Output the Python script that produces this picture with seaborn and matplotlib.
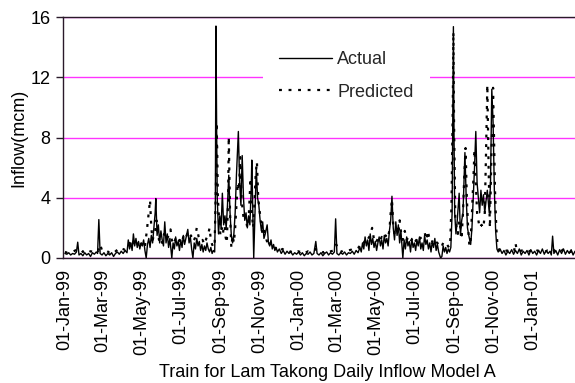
import matplotlib
matplotlib.use("Agg")
import matplotlib.pyplot as plt
import matplotlib.dates as mdates
import numpy as np
import pandas as pd
import seaborn as sns

# Day offsets from 01-Jan-1999 and observed daily inflow (million m3)
actual_day = [
    0, 3, 6, 9, 12, 15, 18, 20, 22, 25, 28, 31, 34, 37, 40, 43, 46, 49, 51, 53, 55, 58,
    61, 64, 67, 70, 73, 76, 79, 82, 85, 88, 91, 94, 97, 99, 101, 103, 105, 107, 109, 111,
    113, 115, 117, 119, 121, 123, 125, 127, 129, 131, 133, 135, 137, 139, 141, 142, 144,
    146, 148, 150, 152, 154, 156, 158, 160, 162, 164, 167, 169, 171, 173, 175, 177, 179,
    181, 183, 185, 187, 189, 192, 194, 196, 198, 200, 202, 204, 206, 208, 210, 212, 214,
    216, 218, 220, 222, 224, 226, 228, 230, 232, 234,
    235, 236, 237, 238, 240, 242, 244, 246, 248, 250, 252, 254, 256, 258, 260, 262, 264,
    266, 268, 271, 273, 275, 277, 279, 281, 283, 285, 287, 289, 291, 292, 294, 295, 297,
    299, 301, 303, 305, 307, 309, 311, 313, 316, 318, 320, 322, 324, 326, 328, 330, 332,
    335, 338, 341, 344, 347, 350, 353, 356, 359, 362,
    365, 368, 371, 374, 377, 380, 383, 386, 389, 392, 394, 397, 400, 403, 406, 409, 412,
    415, 418, 421, 423, 425, 428, 431, 434, 437, 440, 443, 446, 449, 452, 455, 458, 461,
    463, 465, 467, 469, 471, 473, 475, 477, 479, 481, 483, 485, 487, 489, 491, 493, 495,
    497, 499, 501, 503, 505, 507, 509, 511, 513, 515, 517, 519, 521, 523, 525, 528, 530,
    532, 534, 536, 538, 540, 542, 544, 546, 548, 550, 552, 554, 556, 558, 560, 562, 564,
    566, 568, 570, 572, 574, 576, 578, 580, 582, 584, 587, 589, 591, 593, 595, 597, 599,
    601, 603, 605, 607, 608, 609, 611, 613, 616, 618, 620, 622, 625, 627, 629, 631, 634,
    636, 638, 640, 642, 644, 646, 648, 650, 652, 654, 656, 658, 660, 663, 665, 667, 669,
    671, 673, 675,
    677, 680, 683, 686, 689, 692, 695, 698, 701, 704, 707, 710, 713, 716, 719, 722, 725,
    728, 731, 734, 737, 740, 743, 746, 749, 752, 755, 758, 760, 762, 764, 767, 770, 773,
    776, 779, 782, 785, 788, 791, 794, 797, 800, 803, 806, 809, 812, 815, 818, 821,
]
actual = [
    0.3, 0.25, 0.35, 0.2, 0.3, 0.25, 0.4, 1.05, 0.2, 0.3, 0.15, 0.35, 0.2, 0.3, 0.1, 0.35, 0.25, 0.4, 0.3, 2.55, 0.3, 0.2,
    0.35, 0.15, 0.3, 0.2, 0.35, 0.1, 0.3, 0.4, 0.25, 0.45, 0.3, 0.5, 0.35, 1.2, 0.6, 1.0, 0.5, 1.6, 0.8, 1.3,
    0.7, 1.1, 0.6, 1.0, 0.8, 1.2, 0.5, 0.0, 0.9, 1.3, 0.7, 1.5, 1.0, 2.0, 3.0, 3.95, 1.5,
    2.2, 1.0, 1.8, 1.2, 0.8, 2.4, 1.0, 1.6, 0.7, 1.3, 0.0, 1.0, 0.6, 1.4, 0.8, 1.1, 0.5,
    1.2, 0.7, 1.5, 0.9, 1.3, 1.9, 1.0, 1.4, 0.6, 0.0, 1.0, 0.6, 1.3, 0.8, 1.1, 0.5, 0.9,
    0.4, 0.8, 0.5, 1.0, 0.6, 0.4, 0.7, 0.3, 0.5, 0.4,
    3.0, 15.4, 9.0, 4.0, 1.6, 2.8, 2.0, 4.3, 2.2, 2.8, 2.0, 3.5, 5.5, 3.0, 1.5, 1.0, 1.6,
    3.0, 5.5, 8.4, 5.0, 3.5, 6.8, 4.0, 2.5, 3.0, 2.0, 2.8, 2.2, 4.5, 6.5, 2.0, 0.0, 3.0,
    6.0, 4.0, 3.5, 2.5, 1.8, 2.4, 1.3, 1.6, 2.2, 1.0, 0.8, 1.2, 0.6, 0.9, 0.5, 0.7, 0.4,
    0.6, 0.3, 0.5, 0.25, 0.45, 0.3, 0.4, 0.2, 0.35, 0.25,
    0.4, 0.2, 0.35, 0.15, 0.3, 0.25, 0.4, 0.2, 0.3, 1.1, 0.3, 0.2, 0.35, 0.15, 0.3, 0.4, 0.2,
    0.35, 0.25, 0.4, 2.6, 0.3, 0.2, 0.35, 0.25, 0.4, 0.2, 0.35, 0.3, 0.45, 0.25, 0.5, 0.35, 0.7,
    0.4, 1.0, 0.6, 1.4, 0.8, 1.2, 0.5, 1.6, 0.9, 1.3, 0.7, 1.1, 0.5, 1.0, 1.4, 0.8, 1.2,
    0.6, 1.5, 1.0, 1.3, 0.8, 1.8, 2.5, 4.1, 2.0, 1.2, 2.4, 1.5, 2.2, 1.0, 1.8, 0.0, 1.2,
    0.6, 1.4, 0.8, 1.1, 0.4, 1.3, 0.7, 1.0, 0.5, 1.2, 0.8, 1.4, 0.6, 1.0, 0.5, 1.5, 0.9,
    1.2, 0.6, 1.0, 0.4, 1.1, 0.7, 1.3, 0.5, 0.9, 0.4, 0.0, 0.1, 0.8, 0.4, 0.7, 0.3, 0.6,
    0.4, 0.7, 3.0, 15.36, 8.0, 3.0, 1.6, 2.5, 4.3, 1.5, 2.5, 3.0, 7.0, 4.0, 2.0, 1.5, 0.9,
    2.0, 4.0, 6.0, 8.4, 5.0, 4.0, 3.0, 4.5, 3.5, 4.2, 3.0, 3.8, 4.5, 3.0, 5.0, 11.2, 9.0,
    4.5, 1.8, 0.6,
    0.4, 0.6, 0.3, 0.5, 0.2, 0.45, 0.3, 0.55, 0.25, 0.5, 0.3, 0.6, 0.2, 0.45, 0.3, 0.5, 0.2,
    0.55, 0.3, 0.45, 0.2, 0.5, 0.3, 0.6, 0.25, 0.5, 0.3, 0.45, 0.2, 1.45, 0.3, 0.5, 0.2, 0.55,
    0.3, 0.6, 0.25, 0.5, 0.3, 0.55, 0.2, 0.45, 0.3, 0.5, 0.2, 0.45, 0.3, 0.5, 0.25, 0.4,
]

# Day offsets and Model A predictions
pred_day = [
    0, 4, 8, 12, 16, 20, 24, 28, 32, 36, 40, 44, 48, 52, 55, 58, 62, 66, 70, 74, 78, 82,
    86, 90, 94, 98, 101, 104, 107, 110, 113, 116, 119, 122, 125, 128, 131, 133, 135, 137,
    139, 141, 143, 145, 147, 149, 152, 155, 158, 161, 165, 167, 170, 173, 176, 179, 182,
    185, 188, 191, 194, 197, 200, 203, 206, 209, 212, 215, 218, 221, 224, 226, 228, 230,
    232, 234, 236, 237, 238, 239, 241, 243, 245, 247, 249, 251, 253, 255, 256, 258, 260,
    262, 264, 266, 268, 270, 272, 274, 276, 278, 280, 282, 285, 287, 290, 292, 294, 296,
    298, 300, 302, 304, 306, 309, 312, 315, 318, 321, 324, 327, 330, 333, 336, 340, 344,
    348, 352, 356, 360, 364, 368, 372, 376, 380, 384, 388, 392, 396, 400, 404, 408, 412,
    416, 420, 424, 427, 431, 435, 439, 443, 447, 451, 455, 459, 462, 465, 468, 471, 474,
    477, 480, 483, 486, 489, 492, 495, 498, 501, 504, 507, 509, 511, 513, 515, 518, 521,
    523, 526, 528, 531, 534, 537, 540, 543, 546, 549, 552, 555, 558, 562, 565, 567, 570,
    573, 576, 579, 582, 585, 588, 591, 594, 597, 600, 602, 604, 606, 607, 608, 610, 612,
    614, 616, 618, 620, 622, 624, 626, 628, 630, 632, 634, 636, 638, 640, 642, 644, 646,
    648, 651, 654, 656, 658, 660, 662, 664, 666, 668, 669, 671, 672, 674, 676, 679, 683,
    687, 691, 695, 699, 702, 704, 706, 710, 714, 718, 722, 726, 730, 734, 738, 742, 746,
    750, 754, 758, 762, 766, 770, 774, 778, 782, 786, 790, 794, 798, 802, 806, 810, 814,
    818, 822,
]
predicted = [
    0.4, 0.35, 0.45, 0.4, 0.5, 0.55, 0.6, 0.4, 0.5, 0.35, 0.45, 0.4, 0.5, 0.45, 0.9, 0.5, 0.4, 0.45, 0.35, 0.5, 0.4, 0.55,
    0.45, 0.6, 0.55, 0.8, 1.0, 0.7, 1.1, 1.0, 0.8, 1.2, 0.9, 1.1, 0.8, 1.8, 3.0, 3.85, 2.0, 1.2,
    1.5, 1.8, 2.5, 1.6, 1.2, 1.4, 1.0, 1.6, 1.2, 1.4, 1.9, 1.2, 0.9, 1.3, 1.0, 1.2, 1.0,
    1.4, 1.2, 1.6, 1.3, 1.5, 1.1, 1.3, 2.0, 1.4, 1.1, 1.2, 0.9, 1.3, 1.6, 2.0, 1.2, 0.9,
    0.7, 1.0, 5.0, 9.0, 7.0, 4.0, 2.5, 1.5, 2.0, 1.6, 2.5, 1.4, 1.0, 4.0, 8.05, 3.0, 0.7,
    1.5, 1.0, 2.0, 3.5, 5.0, 4.5, 6.7, 4.0, 3.0, 2.5, 2.8, 2.0, 2.5, 5.3, 3.0, 2.0, 3.5,
    5.5, 6.4, 4.0, 3.2, 2.5, 1.5, 1.8, 1.2, 0.8, 1.0, 0.7, 0.8, 0.6, 0.7, 0.5, 0.6, 0.45,
    0.5, 0.4, 0.5, 0.4, 0.45, 0.4, 0.5, 0.35, 0.45, 0.4, 0.5, 0.6, 0.4, 0.45, 0.35, 0.5, 0.4,
    0.45, 0.5, 0.9, 0.5, 0.4, 0.5, 0.45, 0.5, 0.55, 0.5, 0.6, 0.7, 0.9, 0.8, 1.1, 1.0, 1.3,
    1.5, 2.0, 1.2, 1.0, 1.3, 1.1, 1.4, 1.2, 1.5, 1.3, 1.8, 3.0, 3.9, 2.2, 1.6, 2.0, 1.6,
    2.5, 1.4, 1.2, 1.8, 1.2, 1.4, 1.1, 1.3, 1.0, 1.2, 1.0, 1.3, 1.4, 1.7, 1.2, 1.8, 1.2,
    1.0, 1.3, 1.1, 1.0, 0.8, 0.7, 1.0, 0.8, 0.9, 0.7, 1.0, 3.5, 10.0, 15.0, 9.0, 2.5, 2.0,
    1.6, 2.5, 2.0, 1.5, 3.0, 5.5, 7.3, 4.0, 2.0, 0.8, 1.2, 3.0, 5.0, 7.2, 5.0, 3.0, 2.5,
    2.0, 2.2, 2.0, 3.0, 7.0, 11.5, 6.0, 2.0, 6.0, 9.5, 11.3, 7.0, 4.5, 2.0, 0.8, 0.5, 0.6,
    0.45, 0.5, 0.4, 0.55, 0.5, 1.0, 0.5, 0.45, 0.5, 0.4, 0.5, 0.45, 0.55, 0.4, 0.5, 0.45, 0.5,
    0.4, 0.5, 0.45, 0.6, 0.45, 0.5, 0.4, 0.55, 0.45, 0.5, 0.4, 0.5, 0.45, 0.5, 0.4, 0.45, 0.5,
    0.4, 0.45,
]

y_ticks = [0, 4, 8, 12, 16]
tick_months = pd.date_range("1999-01-01", "2001-01-01", freq="2MS")

origin = pd.Timestamp("1999-01-01")
df_actual = pd.DataFrame({
    "date": origin + pd.to_timedelta(actual_day, unit="D"),
    "inflow": actual,
})
df_pred = pd.DataFrame({
    "date": origin + pd.to_timedelta(pred_day, unit="D"),
    "inflow": predicted,
})

sns.set_theme(style="white")
plt.rcParams["font.family"] = ["Liberation Sans", "DejaVu Sans"]
plt.rcParams["font.size"] = 13

W, H = 575, 383
AX_L, AX_R, AX_T, AX_B = 63, 591, 17, 258   # plot area in pixels (runs past the right edge)
AX_W, AX_H = AX_R - AX_L, AX_B - AX_T

fig = plt.figure(figsize=(W / 100, H / 100), dpi=100, facecolor="white")
ax = fig.add_axes([AX_L / W, 1 - AX_B / H, AX_W / W, AX_H / H])
ax.set_facecolor("white")

sns.lineplot(data=df_actual, x="date", y="inflow", ax=ax, color="black",
             linewidth=1.0, estimator=None, label="Actual", zorder=3)
sns.lineplot(data=df_pred, x="date", y="inflow", ax=ax, color="black",
             linewidth=1.6, linestyle=(0, (1.3, 3.0)), estimator=None,
             label="Predicted", zorder=3)

ax.set_ylim(0, 16)
ax.set_yticks(y_ticks)
ax.set_xlim(origin - pd.Timedelta(days=3), origin + pd.Timedelta(days=822))
ax.set_xticks(tick_months)
ax.xaxis.set_major_formatter(mdates.DateFormatter("%d-%b-%y"))
for lbl in ax.get_xticklabels():
    lbl.set_rotation(90)

ax.yaxis.grid(True, color="#ff33ff", linewidth=1.0, zorder=0)
ax.xaxis.grid(False)
ax.set_axisbelow(True)

for side in ["left", "top", "bottom"]:
    ax.spines[side].set_visible(True)
    ax.spines[side].set_color("#2a1a2a")
    ax.spines[side].set_linewidth(1.0)
ax.spines["right"].set_visible(False)

ax.tick_params(axis="y", which="both", left=True, length=5, width=1,
               color="#2a1a2a", pad=4, labelsize=13, labelcolor="black")
ax.tick_params(axis="x", which="both", bottom=False, length=0, pad=8,
               labelsize=13, labelcolor="black")

ax.set_ylabel("Inflow(mcm)", fontsize=13, color="black")
ax.yaxis.set_label_coords(-(AX_L - 27) / AX_W, 0.5)
ax.set_xlabel("Train for Lam Takong Daily Inflow Model A", fontsize=13, color="black")
ax.xaxis.set_label_coords((327 - AX_L) / AX_W, -(364 - AX_B) / AX_H)
ax.xaxis.label.set_verticalalignment("top")

leg = ax.legend(loc="upper left", bbox_to_anchor=(263 / W, 1 - 35 / H),
                bbox_transform=fig.transFigure, frameon=True, fancybox=False,
                facecolor="white", edgecolor="none", framealpha=1.0,
                fontsize=13, handlelength=2.9, handletextpad=0.3,
                labelspacing=0.85, borderpad=0.9, borderaxespad=0)
leg.set_zorder(5)

fig.savefig("out.png", dpi=100, facecolor="white")
